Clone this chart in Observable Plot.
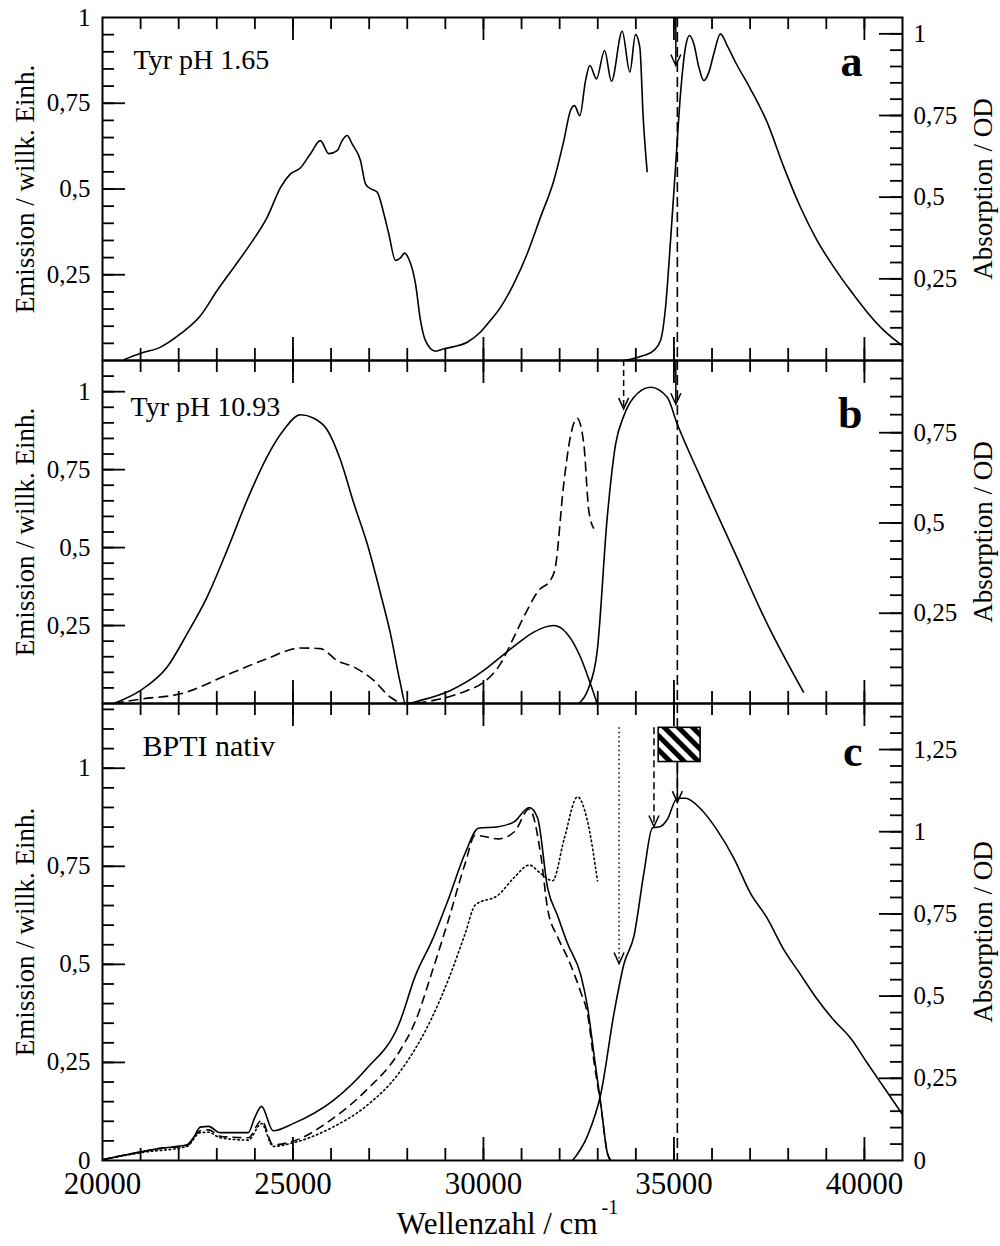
<!DOCTYPE html>
<html>
<head>
<meta charset="utf-8">
<script src="https://cdn.jsdelivr.net/npm/d3@7"></script>
<script src="https://cdn.jsdelivr.net/npm/@observablehq/plot@0.6"></script>
<style>
  body { margin: 0; background: #fff; }
  #chart { position: relative; width: 1000px; height: 1246px; background: #fff; }
  #chart svg, #chart svg text { font-family: "Liberation Serif", "Times New Roman", Times, "DejaVu Serif", serif !important; }
</style>
</head>
<body>
<div id="chart"></div>
<script>
// ---------- shared x axis ----------
const X_DOMAIN = [20000, 41000];
const xMajor = [25000, 30000, 35000, 40000];
const xMinor = d3.range(21000, 40001, 1000);
const xLabels = [20000, 25000, 30000, 35000, 40000];
const xTitle = "Wellenzahl / cm";
const xTitleSup = "-1";
const leftTitle = "Emission / willk. Einh.";
const rightTitle = "Absorption / OD";

// ---------- panel a : Tyr pH 1.65 ----------
const emA = [[20560,0.002],[21000,0.021],[21525,0.039],[22050,0.078],[22575,0.131],[23010,0.204],[23450,0.272],[23885,0.34],[24325,0.418],[24675,0.505],[24935,0.544],[25200,0.562],[25460,0.603],[25720,0.641],[25940,0.603],[26160,0.612],[26290,0.641],[26422,0.656],[26560,0.63],[26772,0.583],[26904,0.515],[27035,0.501],[27210,0.491],[27385,0.428],[27516,0.369],[27691,0.292],[27822,0.299],[27927,0.313],[28041,0.296],[28216,0.224],[28347,0.117],[28478,0.058],[28741,0.027],[28960,0.034],[29573,0.053],[29923,0.083],[30185,0.117],[30448,0.155],[30798,0.224],[31148,0.311],[31498,0.418],[31848,0.525],[32110,0.641],[32285,0.729],[32390,0.743],[32530,0.714],[32680,0.816],[32793,0.86],[32968,0.821],[33178,0.904],[33361,0.814],[33642,0.96],[33843,0.841],[33991,0.95],[34105,0.913],[34193,0.709],[34298,0.549]];
const absA = [[33686,0],[34123,0.012],[34473,0.031],[34648,0.061],[34780,0.163],[34911,0.367],[35042,0.592],[35173,0.817],[35304,0.959],[35409,0.995],[35523,0.969],[35654,0.898],[35785,0.857],[35916,0.882],[36047,0.939],[36222,1.0],[36398,0.964],[36616,0.913],[37010,0.831],[37448,0.729],[37885,0.592],[38322,0.469],[38760,0.367],[39197,0.286],[39635,0.214],[40073,0.148],[40510,0.092],[41000,0.045]];
const arrowsA = [{x: 35050, y1: 1.05, y2: 0.903, dash: null}];

// ---------- panel b : Tyr pH 10.93 ----------
const emBsolid = [[20297,0],[20998,0.042],[21698,0.117],[22223,0.224],[22748,0.342],[23273,0.492],[23798,0.653],[24322,0.792],[24760,0.878],[25197,0.926],[25547,0.915],[25897,0.878],[26247,0.781],[26597,0.642],[26947,0.513],[27297,0.353],[27559,0.224],[27822,0.063],[27953,0],[28346,0.01],[29134,0.042],[30009,0.106],[30446,0.149],[30883,0.191],[31320,0.229],[31846,0.25],[32196,0.224],[32546,0.149],[32808,0.063],[32983,0]];
const emBdash = [[20297,0],[20998,0.014],[22048,0.031],[23448,0.101],[24322,0.144],[25197,0.178],[25722,0.176],[26159,0.138],[26597,0.117],[27121,0.074],[27559,0.02],[27953,0],[28696,0.01],[29571,0.042],[30009,0.068],[30446,0.127],[30796,0.212],[31146,0.299],[31452,0.363],[31758,0.395],[31889,0.438],[32108,0.705],[32283,0.856],[32458,0.915],[32633,0.834],[32764,0.62],[32896,0.561]];
const absB = [[32503,0],[32750,0.04],[32986,0.145],[33249,0.515],[33467,0.717],[33686,0.797],[33949,0.848],[34386,0.876],[34824,0.848],[35087,0.774],[35696,0.627],[36571,0.424],[37446,0.221],[38408,0.03]];
const arrowsB = [{x: 33680, y1: 0.95, y2: 0.816, dash: "6,4"}, {x: 35050, y1: 0.95, y2: 0.829, dash: null}];

// ---------- panel c : BPTI nativ ----------
const emCsolid = [[20000,0.002],[21000,0.022],[21522,0.031],[22217,0.04],[22400,0.06],[22565,0.085],[22783,0.087],[23087,0.071],[23826,0.071],[24000,0.11],[24174,0.138],[24478,0.076],[25000,0.094],[26044,0.152],[26913,0.232],[27783,0.348],[28217,0.472],[28652,0.561],[29087,0.668],[29522,0.784],[29870,0.847],[30391,0.851],[30812,0.864],[31204,0.9],[31422,0.873],[31684,0.695],[31946,0.624],[32208,0.553],[32557,0.472],[32731,0.392],[32906,0.267],[33081,0.143],[33255,0.018],[33342,0]];
const emCdash = [[20000,0.002],[21000,0.022],[21522,0.031],[22217,0.038],[22565,0.076],[22783,0.078],[23087,0.062],[23826,0.058],[24174,0.102],[24478,0.04],[25000,0.049],[26044,0.107],[26913,0.178],[27783,0.276],[28217,0.356],[28652,0.481],[29087,0.615],[29522,0.758],[29783,0.829],[30391,0.82],[30812,0.838],[31204,0.896],[31510,0.775],[31684,0.642],[31946,0.57],[32208,0.517],[32557,0.428],[32731,0.374],[32906,0.249],[33081,0.14],[33255,0.018],[33342,0]];
const emCdot = [[20000,0.002],[21000,0.02],[22217,0.036],[22565,0.071],[22783,0.072],[23087,0.058],[23826,0.052],[24174,0.094],[24478,0.036],[25000,0.045],[26044,0.085],[26913,0.138],[27783,0.223],[28652,0.365],[29087,0.463],[29522,0.579],[29783,0.651],[30391,0.677],[30812,0.722],[31204,0.753],[31510,0.731],[31815,0.713],[32120,0.82],[32469,0.927],[32731,0.865],[32993,0.713]];
const absC = [[32339,0],[32731,0.075],[33081,0.203],[33429,0.449],[33691,0.599],[33953,0.684],[34215,0.877],[34433,1.011],[34651,1.016],[34825,1.037],[35087,1.102],[35305,1.102],[35698,1.07],[36134,1.005],[36571,0.92],[37007,0.813],[37443,0.738],[37880,0.642],[38316,0.567],[38752,0.492],[39188,0.428],[39625,0.374],[40061,0.299],[40497,0.225],[41000,0.14]];
const arrowsC = [{x: 33560, y1: 1.316, y2: 0.599, dash: "1.5,3"}, {x: 34476, y1: 1.316, y2: 1.016, dash: "7,4"}, {x: 35090, y1: 1.212, y2: 1.09, dash: null}];
const boxC = [{x1: 34600, x2: 35700, y1: 1.212, y2: 1.316}];

// dashed marker line (cm^-1)
const markerX = [35090];

// ---------- axis tick labels ----------
const aLeftLabels = [0.25, 0.5, 0.75, 1], aRightLabels = [0.25, 0.5, 0.75, 1];
const bLeftLabels = [0.25, 0.5, 0.75, 1], bRightLabels = [0.25, 0.5, 0.75];
const cLeftLabels = [0, 0.25, 0.5, 0.75, 1], cRightLabels = [0, 0.25, 0.5, 0.75, 1, 1.25];
const minor = (n) => d3.range(1, n + 1).map(i => +(i * 0.05).toFixed(2));
const major = (n) => d3.range(1, n + 1).map(i => i * 0.25);

const fmt = d => String(+(+d).toFixed(2)).replace(".", ",");
const FF = "'Liberation Serif', 'Times New Roman', Times, 'DejaVu Serif', serif";

const vHead = {draw(ctx) { ctx.moveTo(-5, -11); ctx.lineTo(0, 0); ctx.lineTo(5, -11); }};

const panels = [
  {top: 0, height: 360, mt: 17, mb: 0,
   lDomain: [0, 1], rDomain: [0, 1.05],
   lMinor: minor(19), lMajor: major(3), lLabels: aLeftLabels,
   rMinor: minor(20), rMajor: major(4), rLabels: aRightLabels,
   left: [{data: emA}], right: [{data: absA}], arrows: arrowsA,
   title: "Tyr pH 1.65", tdx: 31, tdy: 51, tfs: 28, letter: "a", ldy: 58},
  {top: 360, height: 343, mt: 0, mb: 0,
   lDomain: [0, 1.1], rDomain: [0, 0.95],
   lMinor: minor(21), lMajor: major(4), lLabels: bLeftLabels,
   rMinor: minor(18), rMajor: major(3), rLabels: bRightLabels,
   left: [{data: emBsolid}, {data: emBdash, dash: "10,5"}], right: [{data: absB}], arrows: arrowsB,
   title: "Tyr pH 10.93", tdx: 28, tdy: 55, tfs: 28, letter: "b", ldy: 67},
  {top: 703, height: 543, mt: 0, mb: 86,
   lDomain: [0, 1.165], rDomain: [0, 1.39],
   lMinor: minor(23), lMajor: major(4), lLabels: cLeftLabels,
   rMinor: minor(27), rMajor: major(5), rLabels: cRightLabels,
   left: [{data: emCsolid}, {data: emCdash, dash: "9,5"}, {data: emCdot, dash: "1.5,3"}], right: [{data: absC}], arrows: arrowsC,
   box: boxC, xAxis: true,
   title: "BPTI nativ", tdx: 40, tdy: 52, tfs: 30, letter: "c", ldy: 62}
];

const chart = document.getElementById("chart");
const TK = {stroke: "black", strokeWidth: 1.8};

function place(svg, top) {
  svg.style.position = "absolute";
  svg.style.left = "0px";
  svg.style.top = top + "px";
  svg.style.background = "transparent";
  svg.style.overflow = "visible";
  svg.querySelectorAll("text, g").forEach(el => { if (el.hasAttribute("font-family")) el.removeAttribute("font-family"); });
  chart.appendChild(svg);
}

for (const p of panels) {
  const fh = p.height - p.mt - p.mb;
  const fw = 800;
  const base = {width: 1000, height: p.height, marginLeft: 102, marginRight: 98, marginTop: p.mt, marginBottom: p.mb,
                x: {domain: X_DOMAIN, axis: null}};
  const lineMark = s => Plot.line(s.data, {x: d => d[0], y: d => d[1], curve: "monotone-x", stroke: "black", strokeWidth: 1.6,
                                           strokeDasharray: s.dash || null, strokeLinecap: s.dash === "1.5,3" ? "round" : null});
  const leftMarks = [
    Plot.tickY(p.lMinor, {y: d => d, insetRight: fw - 12, ...TK}),
    Plot.tickY(p.lMajor, {y: d => d, insetRight: fw - 23, ...TK}),
    Plot.tickX(xMinor, {x: d => d, insetBottom: fh - 12, ...TK}),
    Plot.tickX(xMinor, {x: d => d, insetTop: fh - 12, ...TK}),
    Plot.tickX(xMajor, {x: d => d, insetBottom: fh - 23, ...TK}),
    Plot.tickX(xMajor, {x: d => d, insetTop: fh - 23, ...TK}),
    Plot.axisY(p.lLabels, {anchor: "left", tickSize: 0, tickPadding: 12, tickFormat: fmt, fontSize: 25, label: null}),
    Plot.text([leftTitle], {frameAnchor: "left", rotate: -90, dx: -77, textAnchor: "middle", fontSize: 27}),
    ...p.left.map(lineMark),
    Plot.frame({stroke: "black", strokeWidth: 2})
  ];
  if (p.xAxis) {
    leftMarks.push(
      Plot.axisX(xLabels, {anchor: "bottom", tickSize: 0, tickPadding: 11, tickFormat: d => String(d), fontSize: 31, label: null}),
      Plot.text([xTitle], {frameAnchor: "bottom", dx: 95, dy: 73, textAnchor: "end", lineAnchor: "bottom", fontSize: 31}),
      Plot.text([xTitleSup], {frameAnchor: "bottom", dx: 99, dy: 53, textAnchor: "start", lineAnchor: "bottom", fontSize: 20})
    );
  }
  const L = Plot.plot({...base, y: {domain: p.lDomain, axis: null}, marks: leftMarks});
  place(L, p.top);

  const rightMarks = [
    Plot.tickY(p.rMinor, {y: d => d, insetLeft: fw - 12, ...TK}),
    Plot.tickY(p.rMajor, {y: d => d, insetLeft: fw - 23, ...TK}),
    Plot.axisY(p.rLabels, {anchor: "right", tickSize: 0, tickPadding: 11, tickFormat: fmt, fontSize: 25, label: null}),
    Plot.text([rightTitle], {frameAnchor: "right", rotate: -90, dx: 81, textAnchor: "middle", fontSize: 27}),
    Plot.ruleX(markerX, {x: d => d, stroke: "black", strokeWidth: 1.6, strokeDasharray: "10,5"}),
  ];
  if (p.box) rightMarks.push(Plot.rect(p.box, {x1: "x1", x2: "x2", y1: "y1", y2: "y2", fill: "url(#hatch)", stroke: "black", strokeWidth: 1.6}));
  rightMarks.push(...p.right.map(lineMark));
  for (const a of p.arrows) {
    rightMarks.push(
      Plot.ruleX([a], {x: "x", y1: "y1", y2: "y2", stroke: "black", strokeWidth: 1.5, strokeDasharray: a.dash || null}),
      Plot.dot([a], {x: "x", y: "y2", symbol: vHead, fill: "none", stroke: "black", strokeWidth: 1.5})
    );
  }
  rightMarks.push(
    Plot.text([p.title], {frameAnchor: "top-left", dx: p.tdx, dy: p.tdy, textAnchor: "start", lineAnchor: "bottom", fontSize: p.tfs}),
    Plot.text([p.letter], {frameAnchor: "top-right", dx: -40, dy: p.ldy, textAnchor: "end", lineAnchor: "bottom", fontSize: 44, fontWeight: "bold"})
  );
  const R = Plot.plot({...base, y: {domain: p.rDomain, axis: null}, marks: rightMarks});
  if (p.box) {
    const NS = "http://www.w3.org/2000/svg";
    const defs = document.createElementNS(NS, "defs");
    const pat = document.createElementNS(NS, "pattern");
    pat.setAttribute("id", "hatch");
    pat.setAttribute("patternUnits", "userSpaceOnUse");
    pat.setAttribute("width", "10");
    pat.setAttribute("height", "10");
    pat.setAttribute("patternTransform", "rotate(-45)");
    const bg = document.createElementNS(NS, "rect");
    bg.setAttribute("width", "10"); bg.setAttribute("height", "10"); bg.setAttribute("fill", "white");
    const st = document.createElementNS(NS, "rect");
    st.setAttribute("width", "5"); st.setAttribute("height", "10"); st.setAttribute("fill", "black");
    pat.appendChild(bg); pat.appendChild(st); defs.appendChild(pat);
    R.insertBefore(defs, R.firstChild);
  }
  place(R, p.top);
}
</script>
</body>
</html>
